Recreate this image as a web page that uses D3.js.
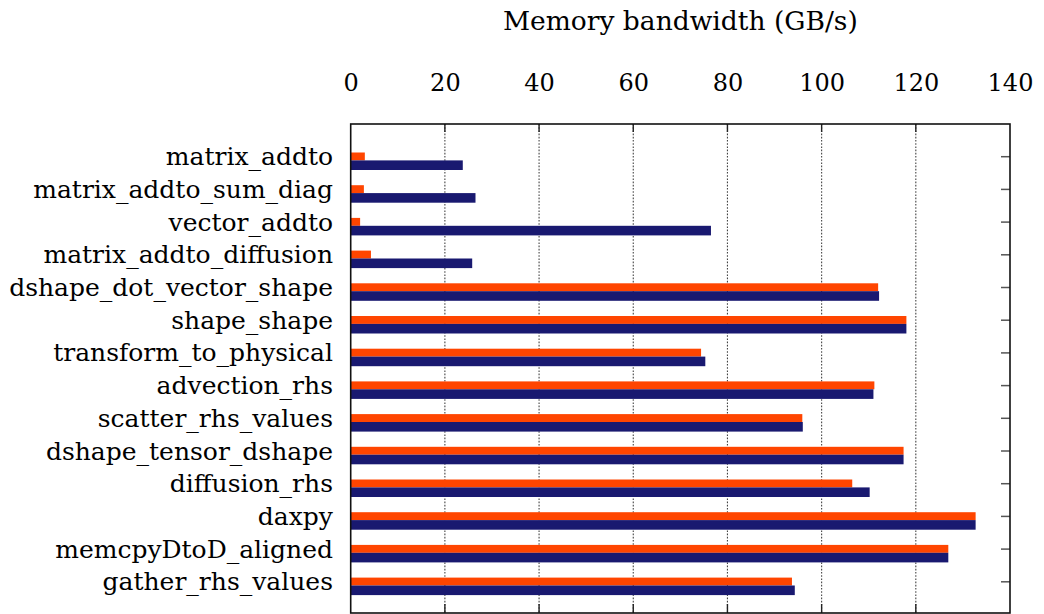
<!DOCTYPE html>
<html><head><meta charset="utf-8">
<script src="https://cdn.jsdelivr.net/npm/d3@7"></script>
<style>body{margin:0;background:#fff}svg{display:block}</style>
</head><body>
<script>
const categories = ["matrix_addto","matrix_addto_sum_diag","vector_addto","matrix_addto_diffusion","dshape_dot_vector_shape","shape_shape","transform_to_physical","advection_rhs","scatter_rhs_values","dshape_tensor_dshape","diffusion_rhs","daxpy","memcpyDtoD_aligned","gather_rhs_values"];
const orangeValues = [3.0, 2.8, 2.0, 4.3, 112.0, 118.0, 74.4, 111.2, 95.9, 117.4, 106.5, 132.7, 126.9, 93.7];
const navyValues   = [23.8, 26.5, 76.5, 25.8, 112.2, 118.0, 75.3, 111.0, 96.0, 117.4, 110.2, 132.7, 126.9, 94.3];
const xTicks = [0, 20, 40, 60, 80, 100, 120, 140];
const xTitle = "Memory bandwidth (GB/s)";

(function () {
const W = 1044, H = 614;
const pLeft = 350.7, pRight = 1010, pTop = 124, pBottom = 613;
const font = "'DejaVu Serif', serif";

const svg = d3.select("body").append("svg").attr("width", W).attr("height", H);

const x = d3.scaleLinear().domain([0, 140]).range([pLeft, pRight]);
const yBand = d3.scaleBand().domain(categories).range([152.5, 595]).paddingInner(0.468).paddingOuter(0);
const center = c => yBand(c) + 4.2;

// gridlines
svg.append("g").selectAll("line").data(xTicks.filter(t => t > 0 && t < 140)).join("line")
  .attr("x1", d => x(d)).attr("x2", d => x(d)).attr("y1", pTop).attr("y2", pBottom)
  .attr("stroke", "#444").attr("stroke-width", 1.1).attr("stroke-dasharray", "1.6,1.6");

// bars
const series = [{key:"orange", vals: orangeValues, color:"#FF4500", y0: 0, h: 7.9},
                {key:"navy", vals: navyValues, color:"#191970", y0: 7.9, h: 9.6}];
series.forEach(s => {
  svg.append("g").selectAll("rect").data(categories).join("rect")
    .attr("x", x(0)).attr("width", (d,i) => x(s.vals[i]) - x(0))
    .attr("y", d => yBand(d) + s.y0).attr("height", s.h)
    .attr("fill", s.color);
});

// top axis
const xAxis = d3.axisTop(x).tickValues(xTicks).tickSize(0).tickPadding(0);
const gx = svg.append("g").attr("transform", `translate(0,${pTop})`).call(xAxis);
gx.select(".domain").remove();
gx.selectAll("text").attr("y", -33).attr("font-family", font).attr("font-size", 24).attr("fill", "#000");

// inward ticks top and bottom
const inner = xTicks.filter(t => t > 0 && t < 140);
svg.append("g").selectAll("line").data(inner).join("line")
  .attr("x1", d => x(d)).attr("x2", d => x(d)).attr("y1", pTop).attr("y2", pTop + 8)
  .attr("stroke", "#222").attr("stroke-width", 1.4);
svg.append("g").selectAll("line").data(inner).join("line")
  .attr("x1", d => x(d)).attr("x2", d => x(d)).attr("y1", pBottom).attr("y2", pBottom - 9)
  .attr("stroke", "#222").attr("stroke-width", 1.4);

// right inward ticks
svg.append("g").selectAll("line").data(categories).join("line")
  .attr("x1", pRight - 9).attr("x2", pRight).attr("y1", d => center(d)).attr("y2", d => center(d))
  .attr("stroke", "#555").attr("stroke-width", 1.5);

// frame
svg.append("rect").attr("x", pLeft).attr("y", pTop).attr("width", pRight - pLeft).attr("height", pBottom - pTop)
  .attr("fill", "none").attr("stroke", "#111").attr("stroke-width", 1.6);

// category labels
svg.append("g").selectAll("text").data(categories).join("text")
  .attr("x", 333).attr("y", d => center(d)).attr("dy", "0.34em")
  .attr("text-anchor", "end").attr("font-family", font).attr("font-size", 25).attr("fill", "#000")
  .text(d => d);

// title
svg.append("text").attr("x", (pLeft + pRight) / 2).attr("y", 30).attr("text-anchor", "middle")
  .attr("font-family", font).attr("font-size", 26.5).attr("fill", "#000").text(xTitle);
})();
</script>
</body></html>
